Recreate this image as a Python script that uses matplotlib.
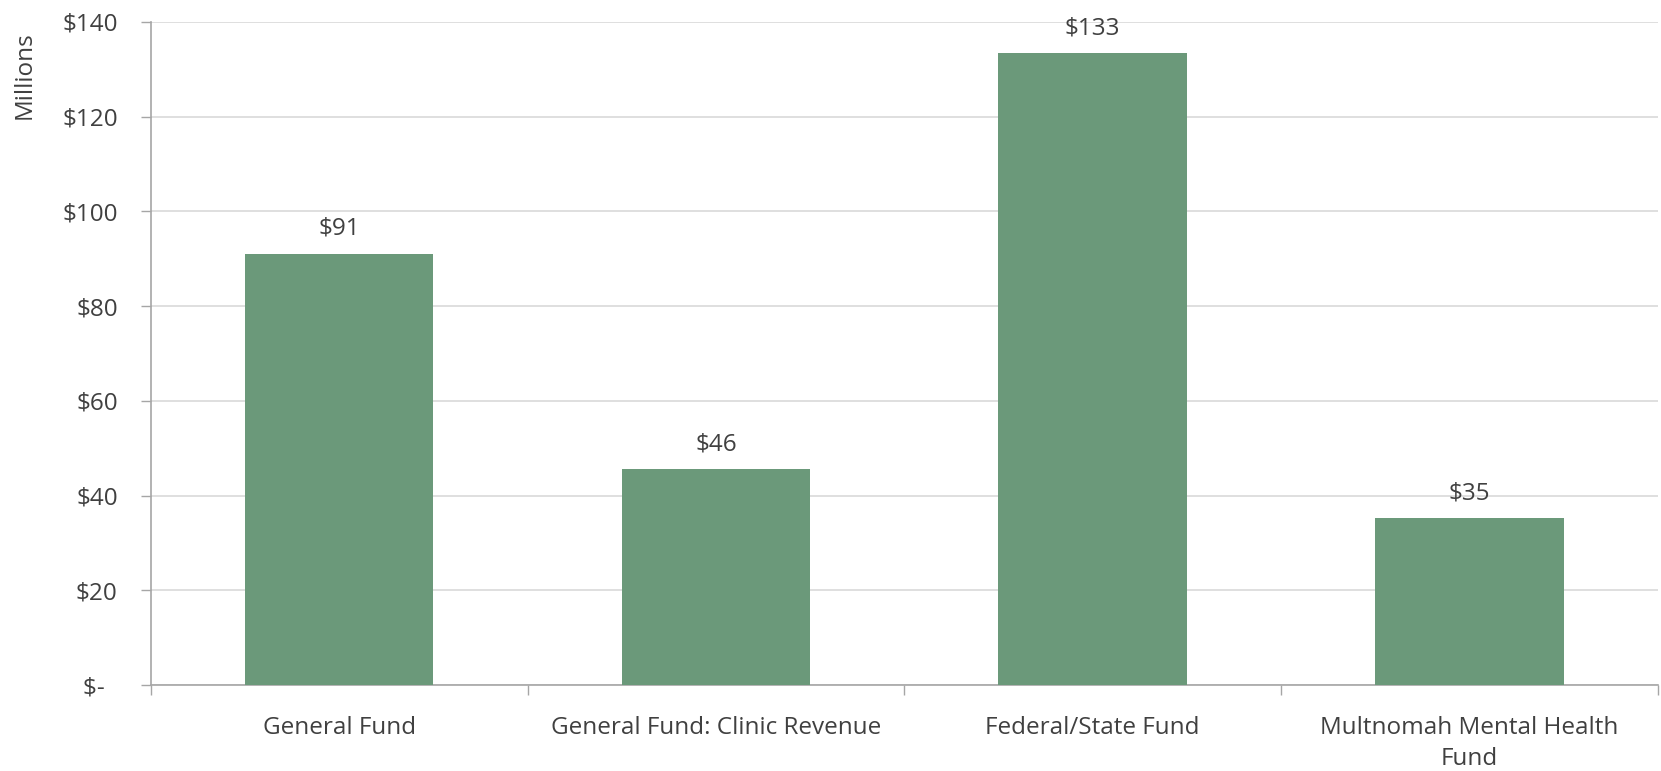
import matplotlib.pyplot as plt
import numpy as np

# Fund categories and amounts (millions of dollars)
categories = ['General Fund', 'General Fund: Clinic Revenue', 'Federal/State Fund',
              'Multnomah Mental Health\nFund']
amounts = [91.1, 45.6, 133.4, 35.3]
y_ticks = [0, 20, 40, 60, 80, 100, 120, 140]
y_tick_labels = ['$-  ', '$20', '$40', '$60', '$80', '$100', '$120', '$140']

BAR_COLOR = '#6b997a'
TEXT_COLOR = '#404040'
AXIS_COLOR = '#a6a6a6'
GRID_COLOR = '#d9d9d9'
FS = 17.5

plt.rcParams['font.family'] = ['Open Sans', 'DejaVu Sans']

fig = plt.figure(figsize=(16.61, 7.71), dpi=100)
ax = fig.add_axes([0.0909, 0.1115, 0.9071, 0.86])

x = np.arange(len(categories))
bars = ax.bar(x, amounts, width=0.5, color=BAR_COLOR, zorder=3)

# Value labels above bars
for bar, val in zip(bars, amounts):
    ax.annotate(f'${val:.0f}', (bar.get_x() + bar.get_width() / 2, bar.get_height()),
                xytext=(0, 13.5), textcoords='offset points',
                ha='center', va='baseline', fontsize=FS, color=TEXT_COLOR)

ax.set_xlim(-0.5, len(categories) - 0.5)
ax.set_ylim(0, 140)

# y axis
ax.set_yticks(y_ticks)
ax.set_yticklabels(y_tick_labels)
ax.tick_params(axis='y', length=7, width=1, color=AXIS_COLOR, pad=17,
               labelsize=FS, labelcolor=TEXT_COLOR)
ax.yaxis.grid(True, color=GRID_COLOR, linewidth=1.2, zorder=0)

# x axis: boundary ticks and centered labels
ax.set_xticks(np.arange(-0.5, len(categories)), labels=[''] * (len(categories) + 1))
ax.set_xticks(x, labels=categories, minor=True)
ax.tick_params(axis='x', which='major', length=7, width=1, color=AXIS_COLOR)
ax.tick_params(axis='x', which='minor', length=0, pad=22,
               labelsize=FS, labelcolor=TEXT_COLOR)
for lbl in ax.get_xticklabels(minor=True):
    lbl.set_linespacing(1.4)

for side in ['top', 'right']:
    ax.spines[side].set_visible(False)
for side in ['left', 'bottom']:
    ax.spines[side].set_color(AXIS_COLOR)
    ax.spines[side].set_linewidth(1.2)

fig.text(0.0150, 0.903, 'Millions', rotation=90, ha='center', va='center',
         fontsize=FS, color=TEXT_COLOR)

plt.savefig('out.png', dpi=100, facecolor='white')
plt.close()
